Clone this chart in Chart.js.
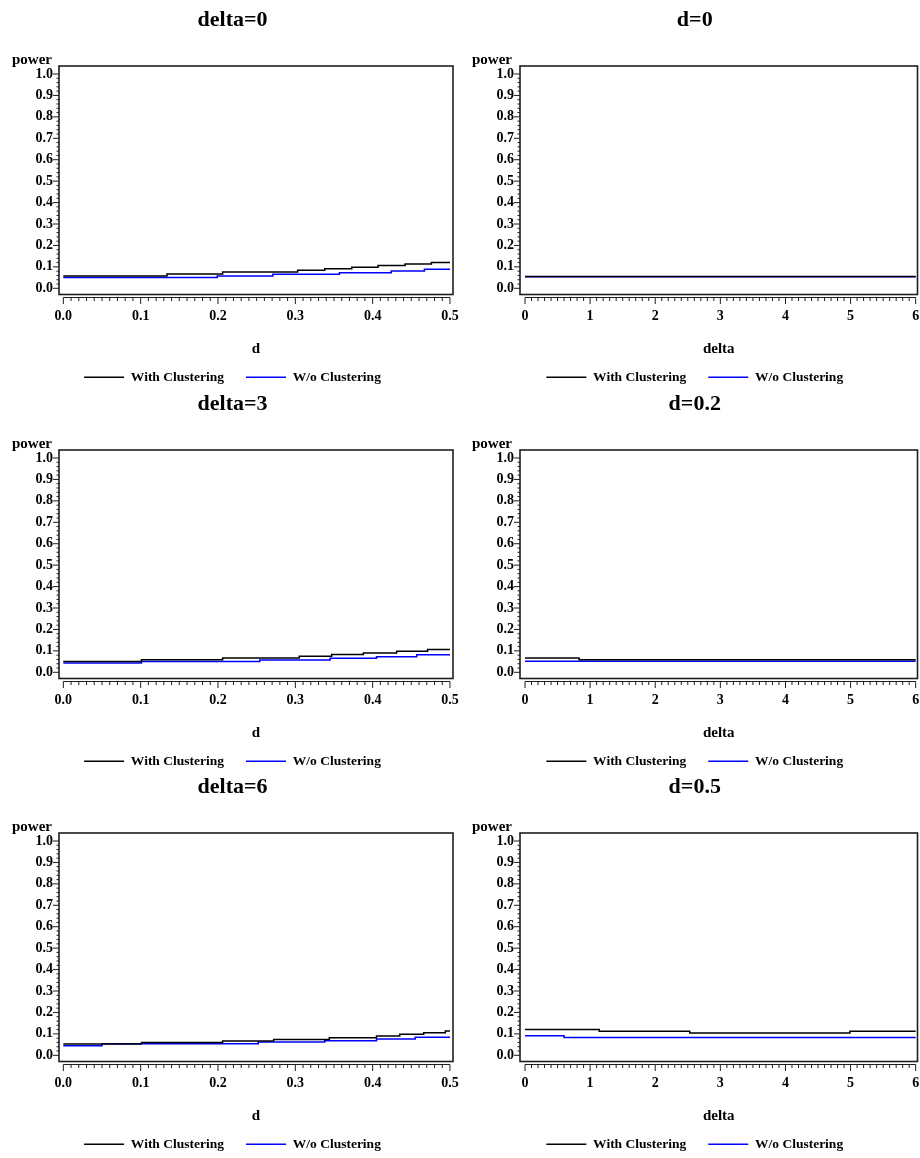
<!DOCTYPE html>
<html><head><meta charset="utf-8">
<script src="https://cdn.jsdelivr.net/npm/chart.js@4/dist/chart.umd.min.js"></script>
<style>
html,body{margin:0;padding:0;background:#fff;overflow:hidden;width:920px;height:1158px;}
canvas{position:absolute;}
</style></head><body>
<canvas id="p1" width="447" height="394" style="left:12px;top:0px"></canvas>
<canvas id="p2" width="448" height="394" style="left:472px;top:0px"></canvas>
<canvas id="p3" width="447" height="394" style="left:12px;top:384px"></canvas>
<canvas id="p4" width="448" height="394" style="left:472px;top:384px"></canvas>
<canvas id="p5" width="447" height="394" style="left:12px;top:767px"></canvas>
<canvas id="p6" width="448" height="394" style="left:472px;top:767px"></canvas>
<script>
// ---- tick labels ----
const powerTicks = [0.0, 0.1, 0.2, 0.3, 0.4, 0.5, 0.6, 0.7, 0.8, 0.9, 1.0];
const dTicks = [0.0, 0.1, 0.2, 0.3, 0.4, 0.5];
const deltaTicks = [0, 1, 2, 3, 4, 5, 6];
const seriesNames = ['With Clustering', 'W/o Clustering'];
const panelTitles = ['delta=0', 'd=0', 'delta=3', 'd=0.2', 'delta=6', 'd=0.5'];
const yAxisLabel = 'power';

// ---- panel delta=0 (x = d) ----
const delta0WithD = [0, 0.134, 0.206, 0.303, 0.338, 0.373, 0.407, 0.442, 0.476, 0.5];
const delta0WithP = [0.058, 0.067, 0.076, 0.084, 0.091, 0.098, 0.106, 0.113, 0.120, 0.120];
const delta0WoD = [0, 0.199, 0.271, 0.357, 0.424, 0.467, 0.5];
const delta0WoP = [0.050, 0.058, 0.066, 0.073, 0.081, 0.089, 0.089];

// ---- panel d=0 (x = delta) ----
const d0WithDelta = [0, 6];
const d0WithP = [0.055, 0.055];
const d0WoDelta = [0, 6];
const d0WoP = [0.054, 0.054];

// ---- panel delta=3 (x = d) ----
const delta3WithD = [0, 0.101, 0.206, 0.305, 0.347, 0.388, 0.431, 0.471, 0.5];
const delta3WithP = [0.051, 0.059, 0.067, 0.075, 0.083, 0.090, 0.098, 0.106, 0.106];
const delta3WoD = [0, 0.101, 0.254, 0.345, 0.405, 0.457, 0.5];
const delta3WoP = [0.044, 0.051, 0.058, 0.066, 0.073, 0.082, 0.082];

// ---- panel d=0.2 (x = delta) ----
const d02WithDelta = [0, 0.83, 6];
const d02WithP = [0.067, 0.059, 0.059];
const d02WoDelta = [0, 6];
const d02WoP = [0.052, 0.052];

// ---- panel delta=6 (x = d) ----
const delta6WithD = [0, 0.101, 0.206, 0.272, 0.344, 0.405, 0.435, 0.466, 0.494, 0.5];
const delta6WithP = [0.053, 0.060, 0.067, 0.074, 0.082, 0.090, 0.098, 0.105, 0.113, 0.113];
const delta6WoD = [0, 0.050, 0.252, 0.338, 0.405, 0.455, 0.5];
const delta6WoP = [0.045, 0.054, 0.062, 0.068, 0.076, 0.084, 0.084];

// ---- panel d=0.5 (x = delta) ----
const d05WithDelta = [0, 1.14, 2.53, 4.99, 6];
const d05WithP = [0.120, 0.112, 0.104, 0.112, 0.112];
const d05WoDelta = [0, 0.60, 6];
const d05WoP = [0.091, 0.083, 0.083];

const FONT = '"Liberation Serif", "Times New Roman", serif';
Chart.defaults.font.family = FONT;
Chart.defaults.font.weight = 'bold';
Chart.defaults.color = '#000';

const toPts = (xs, ys) => xs.map((x, i) => ({x: x, y: ys[i]}));

// draws the SAS-style frame, the minor/major tick marks and the offset x-axis line
const sasFrame = {
  id: 'sasFrame',
  afterDraw(chart, args, opts) {
    const {ctx, chartArea: a, scales} = chart;
    const xs = scales.x, ys = scales.y;
    ctx.save();
    ctx.strokeStyle = '#1e1e1e';
    ctx.lineWidth = 1.6;
    ctx.strokeRect(a.left, a.top, a.right - a.left, a.bottom - a.top);
    ctx.lineWidth = 1;
    ctx.beginPath();
    // y ticks
    const yt = opts.yTicks;
    for (let i = 0; i < yt.length; i++) {
      const py = ys.getPixelForValue(yt[i]);
      ctx.moveTo(a.left - 6, py); ctx.lineTo(a.left, py);
      if (i < yt.length - 1) {
        for (let k = 1; k < opts.yMinor; k++) {
          const v = yt[i] + (yt[i + 1] - yt[i]) * k / opts.yMinor;
          const q = ys.getPixelForValue(v);
          ctx.moveTo(a.left - 2.5, q); ctx.lineTo(a.left, q);
        }
      }
    }
    // x axis line & ticks
    const xt = opts.xTicks;
    const base = a.bottom + 3;
    ctx.moveTo(xs.getPixelForValue(xt[0]), base);
    ctx.lineTo(xs.getPixelForValue(xt[xt.length - 1]), base);
    for (let i = 0; i < xt.length; i++) {
      const px = xs.getPixelForValue(xt[i]);
      ctx.moveTo(px, base); ctx.lineTo(px, base + 6.5);
      if (i < xt.length - 1) {
        for (let k = 1; k < opts.xMinor; k++) {
          const v = xt[i] + (xt[i + 1] - xt[i]) * k / opts.xMinor;
          const q = xs.getPixelForValue(v);
          ctx.moveTo(q, base); ctx.lineTo(q, base + 3.5);
        }
      }
    }
    ctx.stroke();
    ctx.restore();
  }
};

function makePanel(id, title, xTitle, xTicks, xMin, xMax, xDigits, withX, withY, woX, woY, yWidth, padRight) {
  new Chart(document.getElementById(id), {
    type: 'line',
    data: {
      datasets: [
        {label: seriesNames[0], data: toPts(withX, withY), borderColor: '#000', backgroundColor: '#000',
         borderWidth: 1.5, pointRadius: 0, stepped: true, fill: false},
        {label: seriesNames[1], data: toPts(woX, woY), borderColor: '#0000ff', backgroundColor: '#0000ff',
         borderWidth: 1.5, pointRadius: 0, stepped: true, fill: false}
      ]
    },
    options: {
      responsive: false,
      animation: false,
      events: [],
      layout: {padding: {left: 0, right: padRight, top: 0, bottom: 0}},
      plugins: {
        title: {display: true, text: title, font: {size: 22, weight: 'bold', family: FONT}, color: '#000',
                padding: {top: 7.4, bottom: 17.1}},
        subtitle: {display: true, text: yAxisLabel, align: 'start', font: {size: 15, weight: 'bold', family: FONT},
                   color: '#000', padding: {top: 0, bottom: -2.9}},
        legend: {display: true, position: 'bottom',
                 labels: {usePointStyle: true, pointStyle: 'line', pointStyleWidth: 40, padding: 22,
                          font: {size: 13.5, weight: 'bold', family: FONT}, color: '#000'}},
        tooltip: {enabled: false},
        sasFrame: {yTicks: powerTicks, yMinor: 5, xTicks: xTicks, xMinor: 10}
      },
      scales: {
        x: {
          type: 'linear', min: xMin, max: xMax,
          grid: {display: false, drawTicks: true, tickLength: 13.6},
          border: {display: false},
          afterBuildTicks: s => { s.ticks = xTicks.map(v => ({value: v})); },
          afterFit: s => { s.height = 54; },
          ticks: {padding: 0, autoSkip: false, maxRotation: 0, font: {size: 14, weight: 'bold', family: FONT},
                  color: '#000', callback: v => Number(v).toFixed(xDigits)},
          title: {display: true, text: xTitle, font: {size: 15, weight: 'bold', family: FONT}, color: '#000',
                  padding: {top: 0, bottom: -9.5}}
        },
        y: {
          type: 'linear', min: -0.0289, max: 1.0373,
          grid: {display: false, drawTicks: true, tickLength: 6},
          border: {display: false},
          afterBuildTicks: s => { s.ticks = powerTicks.map(v => ({value: v})); },
          afterFit: s => { s.width = yWidth; },
          ticks: {padding: 0, autoSkip: false, font: {size: 14, weight: 'bold', family: FONT}, color: '#000',
                  callback: v => Number(v).toFixed(1)}
        }
      }
    },
    plugins: [sasFrame]
  });
}

makePanel('p1', panelTitles[0], 'd', dTicks, -0.0056, 0.5039, 1, delta0WithD, delta0WithP, delta0WoD, delta0WoP, 47, 6);
makePanel('p2', panelTitles[1], 'delta', deltaTicks, -0.0768, 6.0276, 0, d0WithDelta, d0WithP, d0WoDelta, d0WoP, 48, 2.5);
makePanel('p3', panelTitles[2], 'd', dTicks, -0.0056, 0.5039, 1, delta3WithD, delta3WithP, delta3WoD, delta3WoP, 47, 6);
makePanel('p4', panelTitles[3], 'delta', deltaTicks, -0.0768, 6.0276, 0, d02WithDelta, d02WithP, d02WoDelta, d02WoP, 48, 2.5);
makePanel('p5', panelTitles[4], 'd', dTicks, -0.0056, 0.5039, 1, delta6WithD, delta6WithP, delta6WoD, delta6WoP, 47, 6);
makePanel('p6', panelTitles[5], 'delta', deltaTicks, -0.0768, 6.0276, 0, d05WithDelta, d05WithP, d05WoDelta, d05WoP, 48, 2.5);
</script>
</body></html>
